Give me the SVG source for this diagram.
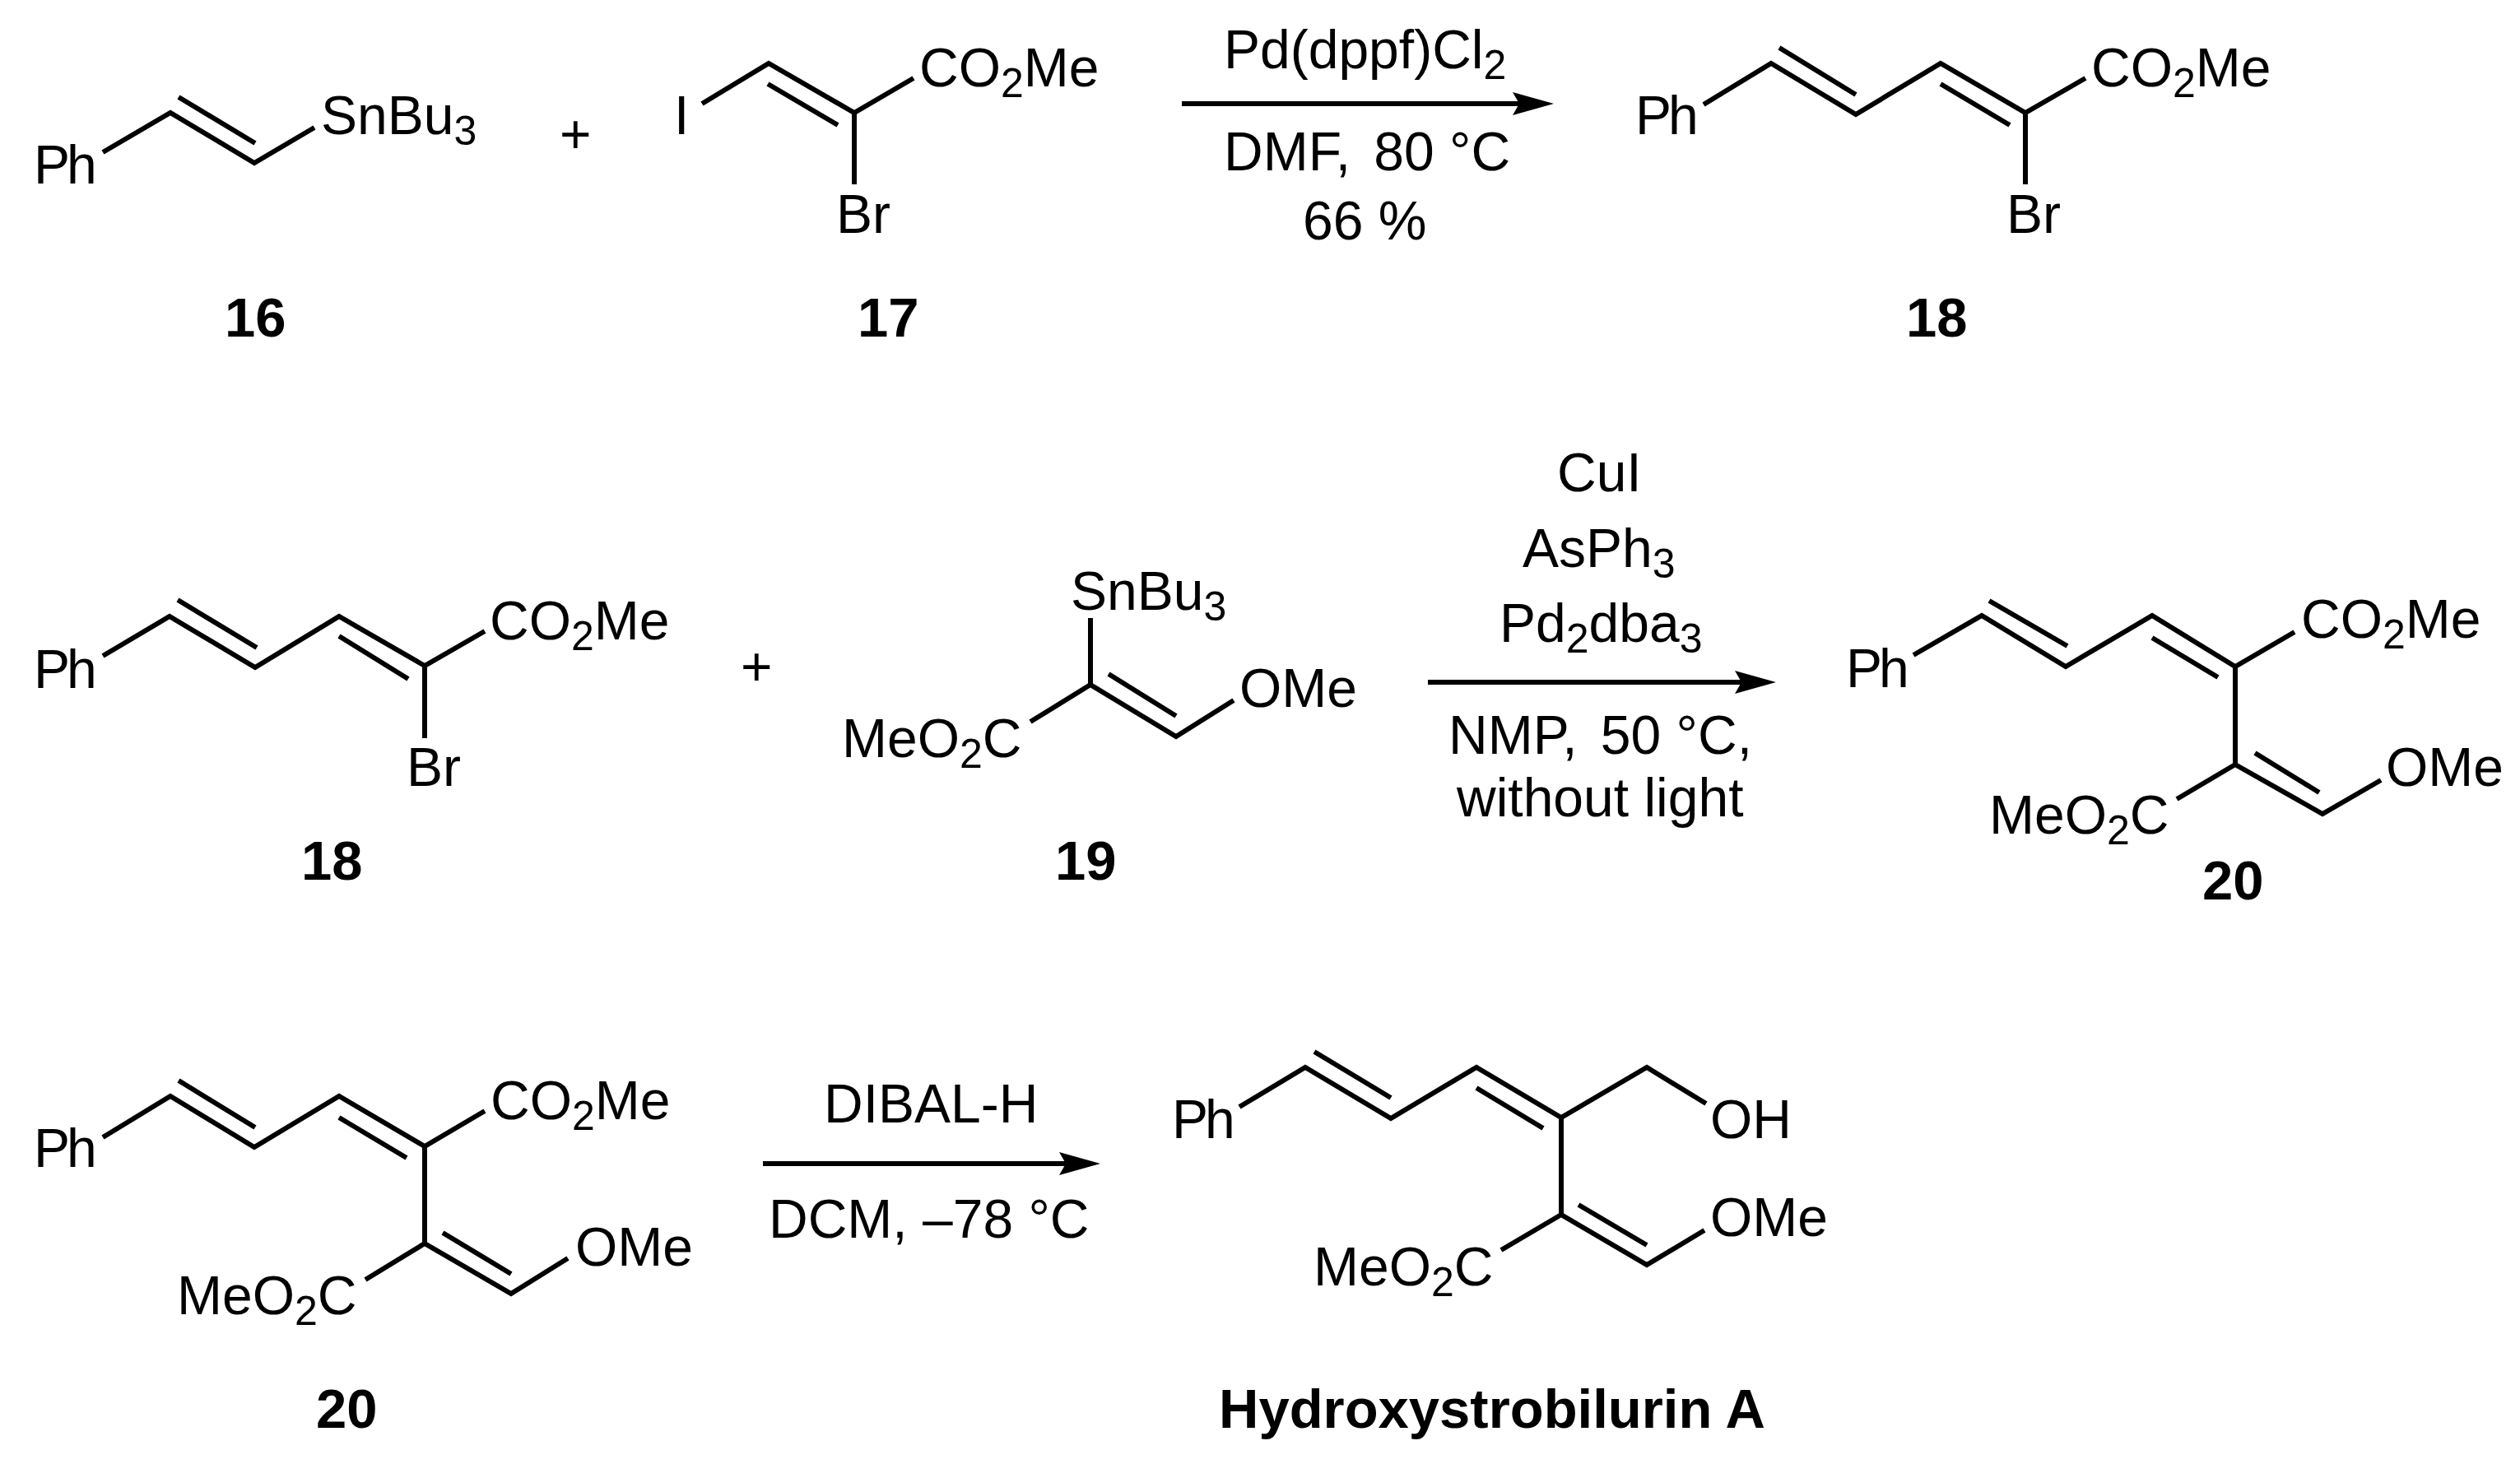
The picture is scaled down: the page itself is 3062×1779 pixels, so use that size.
<svg xmlns="http://www.w3.org/2000/svg" width="3062" height="1779" viewBox="0 0 3062 1779">
<style>
text{font-family:"Liberation Sans",Arial,sans-serif;font-size:66px;fill:#000}
.b{font-weight:bold;font-size:67px}
.s{font-size:50px}
.ph{letter-spacing:-4px}
.bond{fill:none;stroke:#000;stroke-width:6;stroke-linejoin:miter}
.arrow{stroke:#000;stroke-width:6;fill:none;marker-end:url(#head)}
</style>
<defs>
<marker id="head" markerUnits="userSpaceOnUse" markerWidth="50" markerHeight="28" viewBox="0 0 50 28" refX="8" refY="14" orient="auto"><path d="M0,0L50,14L0,28L8,14Z" fill="#000"/></marker>
</defs>
<rect width="3062" height="1779" fill="#fff"/>
<g id="connectors">
<line class="arrow" x1="1436" y1="126" x2="1846" y2="126"/>
<line class="arrow" x1="1735" y1="829" x2="2116" y2="829"/>
<line class="arrow" x1="927" y1="1414" x2="1295" y2="1414"/>
</g>
<g id="compound-16">
<path class="bond" d="M125,185L207,137L309,198L382,155M217,118L310,174"/>
<text class="ph" x="41" y="223">Ph</text>
<text x="390" y="163">SnBu<tspan class="s" dy="13">3</tspan></text>
<text x="273" y="409" class="b">16</text>
</g>
<text id="plus-1" x="680" y="186">+</text>
<g id="compound-17">
<path class="bond" d="M853,126L934,77L1038,137L1110,95M933,102L1018,152M1038,137L1038,224"/>
<text x="819" y="163">I</text>
<text x="1117" y="105">CO<tspan class="s" dy="13">2</tspan><tspan dy="-13">Me</tspan></text>
<text x="1016" y="283">Br</text>
<text x="1042" y="409" class="b">17</text>
</g>
<g id="reagents-1">
<text x="1487" y="83">Pd(dppf)Cl<tspan class="s" dy="13">2</tspan></text>
<text x="1487" y="207">DMF,<tspan dx="10"> 80 °C</tspan></text>
<text x="1583" y="291">66 %</text>
</g>
<g id="compound-18">
<path class="bond" d="M2070,127L2152,77L2255,139L2358,77L2461,137L2534,95M2162,58L2255,115M2358,102L2442,152M2461,137L2461,224"/>
<text class="ph" x="1987" y="163">Ph</text>
<text x="2541" y="105">CO<tspan class="s" dy="13">2</tspan><tspan dy="-13">Me</tspan></text>
<text x="2438" y="283">Br</text>
<text x="2316" y="409" class="b">18</text>
</g>
<g id="compound-18b">
<path class="bond" d="M125,797L206,749L310,811L412,749L516,809L589,767M216,729L312,787M412,773L496,825M516,809L516,897"/>
<text class="ph" x="41" y="836">Ph</text>
<text x="595" y="777">CO<tspan class="s" dy="13">2</tspan><tspan dy="-13">Me</tspan></text>
<text x="494" y="955">Br</text>
<text x="366" y="1069" class="b">18</text>
</g>
<text id="plus-2" x="900" y="833">+</text>
<g id="compound-19">
<path class="bond" d="M1325,751L1325,832L1429,895L1499,851M1325,832L1252,877M1347,819L1429,870"/>
<text x="1301" y="741">SnBu<tspan class="s" dy="13">3</tspan></text>
<text x="1506" y="859">OMe</text>
<text x="1023" y="920">MeO<tspan class="s" dy="13">2</tspan><tspan dy="-13">C</tspan></text>
<text x="1282" y="1069" class="b">19</text>
</g>
<g id="reagents-2">
<text x="1892" y="597">CuI</text>
<text x="1850" y="689">AsPh<tspan class="s" dy="13">3</tspan></text>
<text x="1822" y="780">Pd<tspan class="s" dy="13">2</tspan><tspan dy="-13">dba</tspan><tspan class="s" dy="13">3</tspan></text>
<text x="1760" y="916">NMP,<tspan dx="10"> 50 °C,</tspan></text>
<text x="1770" y="992">without light</text>
</g>
<g id="compound-20">
<path class="bond" d="M2325,796L2408,748L2510,810L2615,748L2716,810L2788,768M2417,730L2512,785M2615,775L2695,823M2716,810L2716,929L2822,989L2893,948M2716,929L2645,971M2740,915L2818,963"/>
<text class="ph" x="2243" y="835">Ph</text>
<text x="2796" y="775">CO<tspan class="s" dy="13">2</tspan><tspan dy="-13">Me</tspan></text>
<text x="2899" y="955">OMe</text>
<text x="2417" y="1013">MeO<tspan class="s" dy="13">2</tspan><tspan dy="-13">C</tspan></text>
<text x="2676" y="1093" class="b">20</text>
</g>
<g id="compound-20b">
<path class="bond" d="M125,1382L207,1332L309,1394L412,1332L516,1393L589,1350M217,1313L310,1370M412,1358L494,1407M516,1393L516,1511L621,1572L690,1529M516,1511L444,1555M538,1498L621,1548"/>
<text class="ph" x="41" y="1418">Ph</text>
<text x="596" y="1360">CO<tspan class="s" dy="13">2</tspan><tspan dy="-13">Me</tspan></text>
<text x="699" y="1538">OMe</text>
<text x="215" y="1597">MeO<tspan class="s" dy="13">2</tspan><tspan dy="-13">C</tspan></text>
<text x="384" y="1735" class="b">20</text>
</g>
<g id="reagents-3">
<text x="1001" y="1364">DIBAL-H</text>
<text x="934" y="1504">DCM, –78 °C</text>
</g>
<g id="hydroxystrobilurin-a">
<path class="bond" d="M1506,1345L1586,1297L1690,1359L1794,1297L1897,1358L2001,1297L2073,1341M1597,1278L1690,1334M1794,1322L1875,1371M1897,1358L1897,1476L2001,1537L2071,1495M1897,1476L1824,1519M1918,1464L2001,1513"/>
<text class="ph" x="1424" y="1383">Ph</text>
<text x="2078" y="1383">OH</text>
<text x="2078" y="1502">OMe</text>
<text x="1596" y="1562">MeO<tspan class="s" dy="13">2</tspan><tspan dy="-13">C</tspan></text>
<text x="1481" y="1735" class="b">Hydroxystrobilurin A</text>
</g>
</svg>
